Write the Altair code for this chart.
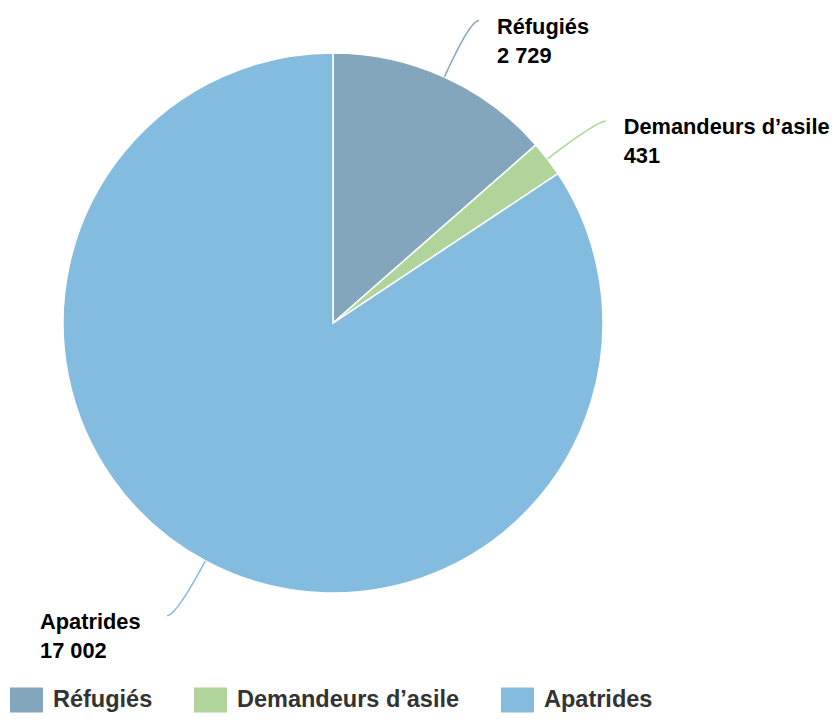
import math
import altair as alt
import pandas as pd

categories = ["Réfugiés", "Demandeurs d’asile", "Apatrides"]
values = [2729, 431, 17002]
value_labels = ["2 729", "431", "17 002"]
colors = ["#84a6bd", "#b0d49a", "#84bce0"]

# layout constants (plot-area pixel coordinates)
W, H = 821, 706
CX, CY, R = 325, 315, 270
CTRL_DIST = 62      # radial distance from rim to connector bend
HOOK = 9            # horizontal end of the connector
GAP_RIGHT = 18
LEFT_BLOCK = 127
FONT = "Liberation Sans"

total = sum(values)
pie_df = pd.DataFrame({"cat": categories, "val": values, "idx": range(len(values))})

line_rows, label_rows = [], []
cum = 0.0
for i, (c, v) in enumerate(zip(categories, values)):
    a = (cum + v / 2) / total * 2 * math.pi
    cum += v
    dx, dy = math.sin(a), -math.cos(a)
    p0 = (CX + R * dx, CY + R * dy)
    p1 = (CX + (R + CTRL_DIST) * dx, CY + (R + CTRL_DIST) * dy)
    right = dx >= 0
    p2 = (p1[0] + (HOOK if right else -HOOK), p1[1])
    n = 24
    for k in range(n + 1):
        t = k / n
        x = (1 - t) ** 2 * p0[0] + 2 * (1 - t) * t * p1[0] + t ** 2 * p2[0]
        y = (1 - t) ** 2 * p0[1] + 2 * (1 - t) * t * p1[1] + t ** 2 * p2[1]
        line_rows.append({"cat": c, "k": k, "x": x, "y": y})
    lx = p2[0] + GAP_RIGHT if right else p2[0] - LEFT_BLOCK
    label_rows.append({"cat": c, "x": lx, "y": p2[1] + 13,
                       "text": c + "\n" + value_labels[i]})

lines_df = pd.DataFrame(line_rows)
labels_df = pd.DataFrame(label_rows)

color_scale = alt.Scale(domain=categories, range=colors)
xs = alt.Scale(domain=[0, W], nice=False, zero=False)
ys = alt.Scale(domain=[0, H], reverse=True, nice=False, zero=False)

pie = alt.Chart(pie_df).mark_arc(
    outerRadius=R, stroke="white", strokeWidth=1.5, x=CX, y=CY
).encode(
    theta=alt.Theta("val:Q", stack=True),
    order=alt.Order("idx:Q"),
    color=alt.Color(
        "cat:N", scale=color_scale, sort=categories,
        legend=alt.Legend(
            title=None, orient="none", legendX=2, legendY=675,
            direction="horizontal",
            symbolType="M-1,-0.76H1V0.76H-1Z", symbolSize=1089,
            symbolStrokeWidth=0, symbolOpacity=1,
            labelFont=FONT, labelFontSize=23.5, labelFontWeight="bold",
            labelColor="#333333", labelOffset=10, columnPadding=41,
            labelLimit=400,
        ),
    ),
)

connectors = alt.Chart(lines_df).mark_line(strokeWidth=1.5).encode(
    x=alt.X("x:Q", scale=xs, axis=None),
    y=alt.Y("y:Q", scale=ys, axis=None),
    detail="cat:N",
    order="k:Q",
    color=alt.Color("cat:N", scale=color_scale, legend=None),
)

labels = alt.Chart(labels_df).mark_text(
    align="left", baseline="alphabetic", font=FONT, fontSize=21.8,
    fontWeight="bold", color="#000000", lineBreak="\n", lineHeight=29,
).encode(
    x=alt.X("x:Q", scale=xs, axis=None),
    y=alt.Y("y:Q", scale=ys, axis=None),
    text="text:N",
)

chart = alt.layer(pie, connectors, labels).properties(
    width=W, height=H, autosize="none", padding=0
).configure_view(stroke=None)

chart.save("out.html", embed_options={"renderer": "svg", "actions": False})
